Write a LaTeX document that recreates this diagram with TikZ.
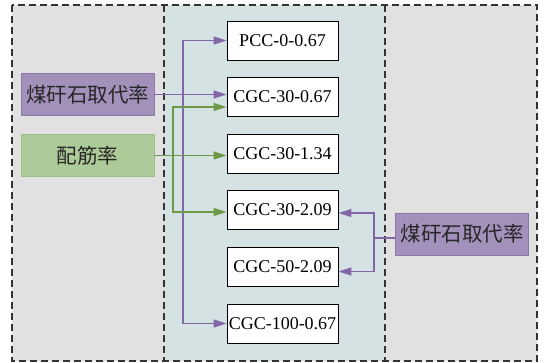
\documentclass[tikz,border=0pt]{standalone}
\usepackage{fontspec}
\setmainfont{Liberation Serif}
\newfontfamily\cjk{Noto Sans CJK SC}
\usetikzlibrary{arrows.meta,calc}
\definecolor{bggray}{HTML}{E1E1E1}
\definecolor{bgblue}{HTML}{D5E2E4}
\definecolor{pfill}{HTML}{A391BB}
\definecolor{pdraw}{HTML}{8C78A8}
\definecolor{gfill}{HTML}{ADCB98}
\definecolor{gdraw}{HTML}{9DBF86}
\definecolor{pline}{HTML}{8266A8}
\definecolor{gline}{HTML}{6E9A48}
\tikzset{
  specbox/.style={draw=black, line width=0.9pt, fill=white, minimum width=111pt, minimum height=39pt, inner sep=0pt, font=\fontsize{18}{20}\selectfont},
  factor/.style={minimum width=133pt, minimum height=42pt, inner sep=0pt, font=\cjk\fontsize{20.5}{22}\selectfont, text=black!85},
  pbox/.style={factor, fill=pfill, draw=pdraw, line width=0.8pt},
  gbox/.style={factor, fill=gfill, draw=gdraw, line width=0.6pt},
  pl/.style={draw=pline, line width=1.3pt},
  gl/.style={draw=gline, line width=1.3pt},
  tip/.style={arrows={-{Triangle[length=13pt,width=8pt]}}},
  tips/.style={arrows={{Triangle[length=13pt,width=8pt]}-{Triangle[length=13pt,width=8pt]}}},
  frame/.style={draw=black!80, line width=1.1pt, dash pattern=on 7pt off 4pt}
}
\begin{document}
\begin{tikzpicture}[x=1pt,y=-1pt]
\useasboundingbox (0,0) rectangle (546,363);
% backgrounds
\fill[bggray] (12,5) rectangle (537,361);
\fill[bgblue] (164,5) rectangle (385,361);
\draw[frame] (12,5) rectangle (537,361);
\draw[frame] (164,5) -- (164,361);
\draw[frame] (385,5) -- (385,361);
% specimen boxes
\node[specbox] (pcc)  at (282.5,40.5)  {PCC-0-0.67};
\node[specbox] (c30a) at (282.5,97)    {CGC-30-0.67};
\node[specbox] (c30b) at (282.5,153.5) {CGC-30-1.34};
\node[specbox] (c30c) at (282.5,210)   {CGC-30-2.09};
\node[specbox] (c50)  at (282.5,266.5) {CGC-50-2.09};
\node[specbox] (c100) at (282.5,323.5) {CGC-100-0.67};
% factor boxes
\node[pbox] (pL) at (87.5,94.5)  {煤矸石取代率};
\node[gbox] (gL) at (87.5,155.5) {配筋率};
\node[pbox] (pR) at (462,234)    {煤矸石取代率};
% bus coordinates
\coordinate (busP) at (183,0);
\coordinate (busG) at (173,0);
\coordinate (busR) at (374,0);
% purple bus (left)
\draw[pl,tips] (pcc.west) -- (busP |- pcc.west) -- (busP |- c100.west) -- (c100.west);
\draw[pl,tip] (pL.east) -- (pL.east -| c30a.west);
% green
\draw[gl,tips] ($(c30a.west)+(0,10)$) -- ($(busG |- c30a.west)+(0,10)$) -- ($(busG |- c30c.west)+(0,2)$) -- ($(c30c.west)+(0,2)$);
\draw[gl,tip] (gL.east) -- (gL.east -| c30b.west);
% purple (right)
\coordinate (rj) at ($(busR |- pR.west)+(0,4)$);
\draw[pl] ($(pR.west)+(0,4)$) -- (rj);
\draw[pl,tips] ($(c30c.east)+(0,3)$) -- ($(busR |- c30c.east)+(0,3)$) -- ($(busR |- c50.east)+(0,5)$) -- ($(c50.east)+(0,5)$);
\end{tikzpicture}
\end{document}
